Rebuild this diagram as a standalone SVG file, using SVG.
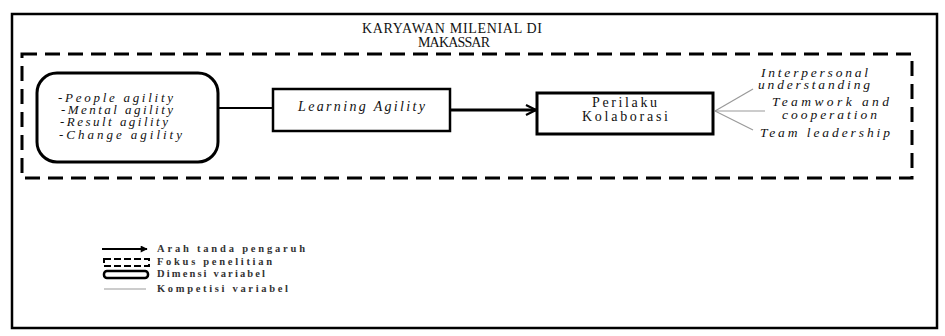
<svg xmlns="http://www.w3.org/2000/svg" width="945" height="336" viewBox="0 0 945 336">
<defs>
<style>
text{font-family:"Liberation Serif","Times New Roman",serif;fill:#111}
.it{font-style:italic}
.lg{font-size:10.5px;font-weight:bold;fill:#333}
.box{fill:#fff;stroke:#000}
.fan{stroke:#999;stroke-width:1.2;fill:none}
</style>
<marker id="ah" viewBox="0 0 12 12" refX="11" refY="6" markerWidth="12" markerHeight="12" markerUnits="userSpaceOnUse" orient="auto">
<path d="M1,1 L11,6 L1,11" fill="none" stroke="#000" stroke-width="2.2"/>
</marker>
<marker id="ahs" viewBox="0 0 10 10" refX="9" refY="5" markerWidth="9" markerHeight="7" markerUnits="userSpaceOnUse" orient="auto">
<path d="M0,0 L10,5 L0,10 Z" fill="#000"/>
</marker>
</defs>
<rect width="945" height="336" fill="#fff"/>
<g id="frame">
<rect x="12" y="14" width="925" height="314" fill="none" stroke="#000" stroke-width="2.5"/>
<text x="452" y="33" font-size="14" text-anchor="middle" textLength="180" lengthAdjust="spacing">KARYAWAN MILENIAL DI</text>
<text x="454" y="47" font-size="14" text-anchor="middle" textLength="72" lengthAdjust="spacing">MAKASSAR</text>
</g>
<g id="focus">
<rect x="22" y="54" width="890" height="124" fill="none" stroke="#000" stroke-width="3" stroke-dasharray="15,8"/>
</g>
<g id="connectors">
<line x1="218" y1="108" x2="273" y2="108" stroke="#000" stroke-width="2"/>
<line x1="450" y1="110" x2="536" y2="110" stroke="#000" stroke-width="3" marker-end="url(#ah)"/>
<line class="fan" x1="715" y1="111" x2="753" y2="89"/>
<line class="fan" x1="715" y1="111" x2="765" y2="111"/>
<line class="fan" x1="715" y1="111" x2="753" y2="130"/>
</g>
<g id="dimensions">
<rect class="box" x="37" y="73" width="181" height="89" rx="20" stroke-width="3"/>
<text class="it" font-size="13">
<tspan x="58" y="102" textLength="115" lengthAdjust="spacing">-People agility</tspan>
<tspan x="61" y="114" textLength="112" lengthAdjust="spacing">-Mental agility</tspan>
<tspan x="60" y="126" textLength="108" lengthAdjust="spacing">-Result agility</tspan>
<tspan x="59" y="139" textLength="123" lengthAdjust="spacing">-Change agility</tspan>
</text>
</g>
<g id="learning">
<rect class="box" x="273" y="89" width="177" height="42" stroke-width="2.5"/>
<text class="it" x="298" y="111" font-size="14" textLength="127" lengthAdjust="spacing">Learning Agility</text>
</g>
<g id="perilaku">
<rect class="box" x="537" y="93" width="176" height="41" stroke-width="3"/>
<text x="592" y="107" font-size="14" textLength="65" lengthAdjust="spacing">Perilaku</text>
<text x="582" y="121" font-size="14" textLength="86" lengthAdjust="spacing">Kolaborasi</text>
</g>
<g id="competencies">
<text class="it" font-size="13.5">
<tspan x="761" y="77" textLength="107" lengthAdjust="spacing">Interpersonal</tspan>
<tspan x="758" y="89" textLength="112" lengthAdjust="spacing">understanding</tspan>
<tspan x="772" y="106" textLength="117" lengthAdjust="spacing">Teamwork and</tspan>
<tspan x="782" y="119" textLength="95" lengthAdjust="spacing">cooperation</tspan>
<tspan x="760" y="137" textLength="130" lengthAdjust="spacing">Team leadership</tspan>
</text>
</g>
<g id="legend">
<line x1="102" y1="249" x2="147" y2="249" stroke="#000" stroke-width="2" marker-end="url(#ahs)"/>
<rect x="104" y="259" width="45" height="7" fill="none" stroke="#000" stroke-width="2" stroke-dasharray="7,3"/>
<rect x="104" y="271" width="44" height="7" rx="3" fill="none" stroke="#000" stroke-width="2.5"/>
<line x1="104" y1="289" x2="146" y2="289" stroke="#999" stroke-width="1"/>
<text class="lg" x="157" y="252" textLength="148" lengthAdjust="spacing">Arah tanda pengaruh</text>
<text class="lg" x="157" y="265" textLength="115" lengthAdjust="spacing">Fokus penelitian</text>
<text class="lg" x="157" y="277" textLength="108" lengthAdjust="spacing">Dimensi variabel</text>
<text class="lg" x="157" y="292" textLength="131" lengthAdjust="spacing">Kompetisi variabel</text>
</g>
</svg>
